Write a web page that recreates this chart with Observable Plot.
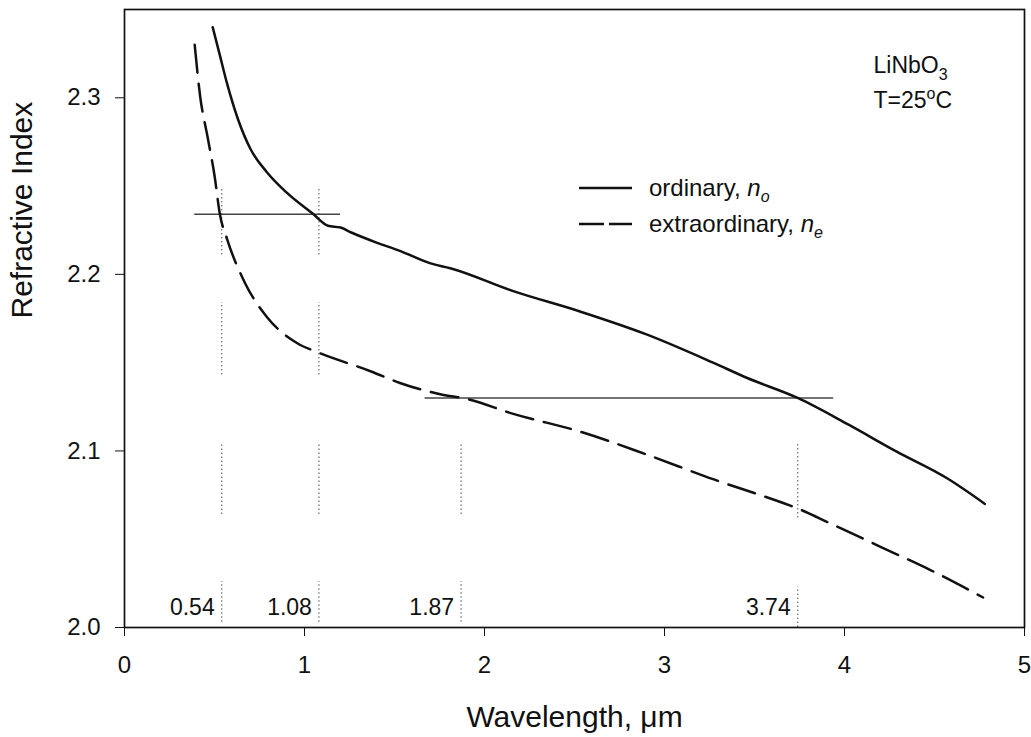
<!DOCTYPE html>
<html><head><meta charset="utf-8">
<script src="https://cdn.jsdelivr.net/npm/d3@7"></script>
<script src="https://cdn.jsdelivr.net/npm/@observablehq/plot@0.6"></script>
<style>
body{margin:0;background:#fff;}
#wrap{position:relative;width:1031px;height:737px;font-family:"Liberation Sans",Arial,sans-serif;color:#111;}
#legend{position:absolute;left:579px;top:170px;font-size:24px;}
#legend .row{display:flex;align-items:center;height:36px;}
#legend svg{margin-right:17px;}
#legend sub{font-size:16px;vertical-align:-6px;line-height:0;}
</style></head><body><div id="wrap"></div>
<script>
// ordinary index n_o
const ordWl = [0.49, 0.53, 0.57, 0.63, 0.70, 0.79, 0.90, 1.05, 1.13, 1.20, 1.26, 1.40, 1.53, 1.70, 1.81, 2.16, 2.53, 2.90, 3.27, 3.46, 3.74, 4.02, 4.29, 4.57, 4.78];
const ordN  = [2.340, 2.324, 2.308, 2.288, 2.271, 2.258, 2.2464, 2.234, 2.2275, 2.2265, 2.2237, 2.218, 2.2133, 2.2062, 2.2035, 2.1905, 2.179, 2.166, 2.150, 2.1413, 2.130, 2.115, 2.0996, 2.0845, 2.070];
// extraordinary index n_e
const extWl = [0.39, 0.42, 0.46, 0.50, 0.53, 0.57, 0.67, 0.79, 0.96, 1.07, 1.37, 1.53, 1.76, 1.90, 2.16, 2.53, 2.90, 3.27, 3.64, 3.74, 3.92, 4.20, 4.48, 4.77];
const extN  = [2.330, 2.301, 2.2786, 2.256, 2.234, 2.220, 2.195, 2.176, 2.161, 2.156, 2.145, 2.1385, 2.132, 2.1295, 2.121, 2.111, 2.098, 2.084, 2.0712, 2.0674, 2.059, 2.0457, 2.0324, 2.017];
// phase-matching wavelengths
const crossWl = [0.54, 1.08, 1.87, 3.74];
// horizontal matching lines
const hLevel = [2.234, 2.130];
const hFrom  = [0.39, 1.67];
const hTo    = [1.20, 3.94];
// dotted marker segments
const dotWl = [0.54, 0.54, 0.54, 0.54, 1.08, 1.08, 1.08, 1.08, 1.87, 1.87, 3.74, 3.74];
const dotLo = [2.211, 2.143, 2.064, 2.003, 2.211, 2.143, 2.064, 2.003, 2.064, 2.003, 2.062, 2.000];
const dotHi = [2.248, 2.184, 2.104, 2.026, 2.248, 2.184, 2.104, 2.026, 2.104, 2.026, 2.104, 2.023];
const xTicks = [0, 1, 2, 3, 4, 5];
const yTicks = [2.0, 2.1, 2.2, 2.3];
const material = "LiNbO3";
const temperature = "T=25oC";

const ord = ordWl.map((x, i) => ({x, n: ordN[i]}));
const ext = extWl.map((x, i) => ({x, n: extN[i]}));
const hlines = hLevel.map((y, i) => ({y, x1: hFrom[i], x2: hTo[i]}));
const dots = dotWl.map((x, i) => ({x, lo: dotLo[i], hi: dotHi[i]}));

const svg = Plot.plot({
  width: 1031, height: 737,
  marginLeft: 124, marginRight: 7, marginTop: 9, marginBottom: 110,
  x: {domain: [0, 5]},
  y: {domain: [2.0, 2.35]},
  style: {fontFamily: '"Liberation Sans", Arial, sans-serif', color: "#111", background: "white", overflow: "visible"},
  marks: [
    Plot.ruleX(dots, {x: "x", y1: "lo", y2: "hi", stroke: "#777", strokeWidth: 1.3, strokeDasharray: "1.5,2.5"}),
    Plot.ruleY(hlines, {y: "y", x1: "x1", x2: "x2", stroke: "#444", strokeWidth: 1.6}),
    Plot.line(ord, {x: "x", y: "n", curve: "monotone-x", stroke: "#111", strokeWidth: 2.5}),
    Plot.line(ext, {x: "x", y: "n", curve: "monotone-x", stroke: "#111", strokeWidth: 2.5, strokeDasharray: "28,11"}),
    Plot.frame({stroke: "#111", strokeWidth: 1.7}),
    Plot.axisX({ticks: xTicks, tickSize: 9, tickPadding: 19, fontSize: 24, label: null, tickFormat: d => String(d)}),
    Plot.axisY({ticks: yTicks, tickSize: 9, tickPadding: 15, fontSize: 24, label: null, tickFormat: d => d.toFixed(1)}),
    Plot.text(crossWl, {x: d => d, frameAnchor: "bottom", lineAnchor: "middle", dy: -20, dx: -7, textAnchor: "end", text: d => d.toFixed(2), fontSize: 23}),
    Plot.text(["Refractive Index"], {frameAnchor: "left", dx: -102, rotate: -90, fontSize: 30}),
    Plot.text(["Wavelength, μm"], {frameAnchor: "bottom", lineAnchor: "middle", dy: 90, fontSize: 30}),
    Plot.text([material], {frameAnchor: "top-right", lineAnchor: "middle", textAnchor: "start", dx: -151, dy: 56, fontSize: 23}),
    Plot.text([temperature], {frameAnchor: "top-right", lineAnchor: "middle", textAnchor: "start", dx: -151, dy: 91, fontSize: 23})
  ]
});

// chemical subscript and degree superscript
const texts = d3.select(svg).selectAll("text");
texts.filter(function() { return this.textContent === material; }).each(function() {
  const t = d3.select(this); t.text("");
  t.append("tspan").text("LiNbO");
  t.append("tspan").attr("dy", 7).attr("font-size", 16).text("3");
});
texts.filter(function() { return this.textContent === temperature; }).each(function() {
  const t = d3.select(this); t.text("");
  t.append("tspan").text("T=25");
  t.append("tspan").attr("dy", -9).attr("font-size", 16).text("o");
  t.append("tspan").attr("dy", 9).text("C");
});

const wrap = document.getElementById("wrap");
wrap.appendChild(svg);
const legend = document.createElement("div");
legend.id = "legend";
legend.innerHTML =
  '<div class="row"><svg width="53" height="6"><line x1="0" x2="53" y1="3" y2="3" stroke="#111" stroke-width="2.4"/></svg><span>ordinary, <i>n</i><sub><i>o</i></sub></span></div>' +
  '<div class="row"><svg width="53" height="6"><line x1="0" x2="53" y1="3" y2="3" stroke="#111" stroke-width="2.4" stroke-dasharray="25,5"/></svg><span>extraordinary, <i>n</i><sub><i>e</i></sub></span></div>';
wrap.appendChild(legend);
</script>
</body></html>
